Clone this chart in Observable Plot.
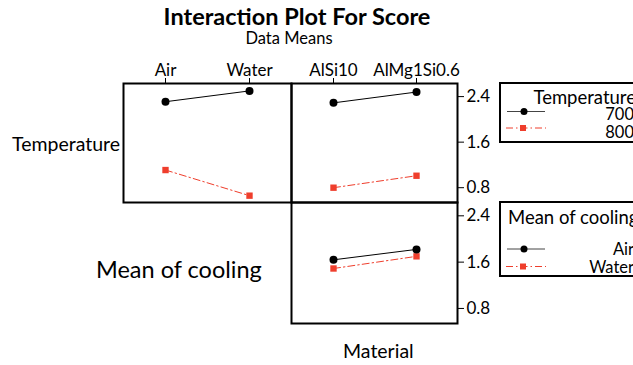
<!DOCTYPE html>
<html><head><meta charset="utf-8">
<script src="https://cdn.jsdelivr.net/npm/d3@7"></script>
<script src="https://cdn.jsdelivr.net/npm/@observablehq/plot@0.6"></script>
<style>
body{margin:0;background:#fff;}
#chart{position:relative;width:633px;height:365px;overflow:hidden;font-family:Lato,sans-serif;background:#fff}
#chart > svg{position:absolute;overflow:visible}
</style></head><body><div id="chart"></div>
<script>
// ---- data ----
const coolingLevels = ["Air", "Water"];
const materialLevels = ["AlSi10", "AlMg1Si0.6"];
const tempLevels = ["700", "800"];
const temp700ByCooling = [2.31, 2.50];
const temp800ByCooling = [1.11, 0.66];
const temp700ByMaterial = [2.29, 2.48];
const temp800ByMaterial = [0.80, 1.01];
const airByMaterial = [1.64, 1.82];
const waterByMaterial = [1.49, 1.70];
const yTicks = [0.8, 1.6, 2.4];
const yDomain = [0.54, 2.63];

const RED = "#ef3e2c";
const FONT = "Lato, sans-serif";
const chart = document.getElementById("chart");

function rows(levels, a, b) {
  return levels.flatMap((lv, i) => [{x: lv, y: a[i], s: 0}, {x: lv, y: b[i], s: 1}]);
}

function panel(data, xDomain, {left, top, boxW, boxH, xAxis, yAxis}) {
  const mT = xAxis ? 40 : 1, mB = 1, mL = 1, mR = yAxis ? 40 : 1;
  const s0 = data.filter(d => d.s === 0), s1 = data.filter(d => d.s === 1);
  const svg = Plot.plot({
    width: boxW + mL + mR, height: boxH + mT + mB,
    marginTop: mT, marginBottom: mB, marginLeft: mL, marginRight: mR,
    style: {fontFamily: FONT, fontSize: "17px", background: "transparent", color: "black"},
    x: {type: "point", domain: xDomain, padding: 0.5, axis: null},
    y: {domain: yDomain, axis: null},
    marks: [
      xAxis ? Plot.axisX({anchor: "top", tickSize: 6, tickPadding: 2, label: null, textAnchor: "middle"}) : null,
      yAxis ? Plot.axisY({anchor: "right", ticks: yTicks, tickSize: 6, tickPadding: 3, tickFormat: d3.format(".1f"), label: null}) : null,
      Plot.line(s1, {x: "x", y: "y", stroke: RED, strokeWidth: 1, strokeDasharray: "7,3,1.5,3"}),
      Plot.dot(s1, {x: "x", y: "y", fill: RED, symbol: "square", r: 3.6}),
      Plot.line(s0, {x: "x", y: "y", stroke: "black", strokeWidth: 1}),
      Plot.dot(s0, {x: "x", y: "y", fill: "black", r: 4}),
      Plot.frame({stroke: "black", strokeWidth: 2})
    ]
  });
  svg.style.left = (left - mL) + "px";
  svg.style.top = (top - mT) + "px";
  chart.appendChild(svg);
}

panel(rows(coolingLevels, temp700ByCooling, temp800ByCooling), coolingLevels,
  {left: 123, top: 83, boxW: 168, boxH: 119, xAxis: true, yAxis: false});
panel(rows(materialLevels, temp700ByMaterial, temp800ByMaterial), materialLevels,
  {left: 291, top: 83, boxW: 166, boxH: 119, xAxis: true, yAxis: true});
panel(rows(materialLevels, airByMaterial, waterByMaterial), materialLevels,
  {left: 291, top: 202, boxW: 166, boxH: 121, xAxis: false, yAxis: true});

// ---- text and legends overlay ----
const ov = d3.select(chart).append("svg")
  .attr("width", 633).attr("height", 365)
  .style("left", "0px").style("top", "0px")
  .style("font-family", FONT).style("pointer-events", "none");

function txt(x, y, s, size, anchor = "start", weight = "normal") {
  ov.append("text").attr("x", x).attr("y", y).attr("font-size", size)
    .attr("text-anchor", anchor).attr("font-weight", weight).attr("fill", "black").text(s);
}
txt(297, 25, "Interaction Plot For Score", 23.5, "middle", "bold");
txt(289, 44, "Data Means", 16.5, "middle");
txt(12, 151, "Temperature", 19.5);
txt(96, 278, "Mean of cooling", 23.5);
txt(343, 358, "Material", 19.5);

function legend(top, bottom, title, titleX, titleAnchor, titleY, titleSize, labels, labelYs, lineYs) {
  ov.append("rect").attr("x", 500).attr("y", top).attr("width", 160).attr("height", bottom - top)
    .attr("fill", "none").attr("stroke", "black").attr("stroke-width", 2);
  txt(titleX, titleY, title, titleSize, titleAnchor);
  labels.forEach((lab, i) => txt(634, labelYs[i], lab, 16.5, "end"));
  ov.append("line").attr("x1", 507).attr("x2", 545).attr("y1", lineYs[0]).attr("y2", lineYs[0])
    .attr("stroke", "#444").attr("stroke-width", 1);
  ov.append("circle").attr("cx", 524).attr("cy", lineYs[0]).attr("r", 3.5).attr("fill", "black");
  ov.append("line").attr("x1", 506).attr("x2", 546).attr("y1", lineYs[1]).attr("y2", lineYs[1])
    .attr("stroke", RED).attr("stroke-width", 1).attr("stroke-dasharray", "7,3,1.5,3");
  ov.append("rect").attr("x", 520).attr("y", lineYs[1] - 3).attr("width", 6).attr("height", 6).attr("fill", RED);
}
legend(83, 142, "Temperature", 636, "end", 103.5, 18.5, tempLevels, [120, 138], [111.5, 128]);
legend(202, 276, "Mean of cooling", 508, "start", 224, 18.5, coolingLevels, [255, 273], [249, 266.5]);
</script></body></html>
